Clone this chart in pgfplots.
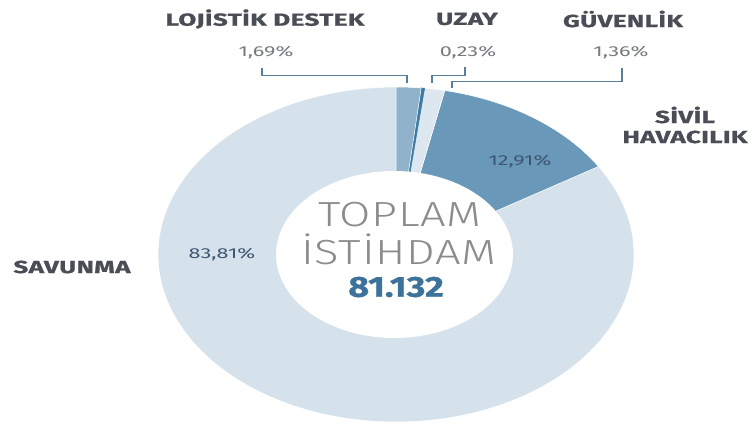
\documentclass[border=0pt]{standalone}
\usepackage{pgfplots}
\pgfplotsset{compat=1.18}
\usepackage{fontspec}
\setmainfont{Fira Sans}
\newfontfamily\hfont{Fira Sans}[FakeStretch=1.5, LetterSpace=2, FakeBold=1]
\newfontfamily\pfont{Fira Sans}[FakeStretch=1.5]
\newfontfamily\lfont{Fira Sans Light}[FakeStretch=1.3, LetterSpace=2]
\newfontfamily\nfont{Fira Sans}[FakeStretch=1.25, FakeBold=1]

\definecolor{cSav}{HTML}{D6E2EB}
\definecolor{cLog}{HTML}{90B3CB}
\definecolor{cUz}{HTML}{3C7BA3}
\definecolor{cGuv}{HTML}{DCE7EF}
\definecolor{cSiv}{HTML}{6A98B8}
\definecolor{cHead}{HTML}{4A4D55}
\definecolor{cPct}{HTML}{76797D}
\definecolor{cIn}{HTML}{3E5672}
\definecolor{cTop}{HTML}{8A8C8E}
\definecolor{cNum}{HTML}{3D729B}
\definecolor{cBr}{HTML}{5A7E9A}

% shares in percent, clockwise from the top
\def\pLog{1.69}
\def\pUz{0.23}
\def\pGuv{1.36}
\def\pSiv{12.91}
\def\pSav{83.81}

\begin{document}
\begin{tikzpicture}
\begin{axis}[
    scale only axis,
    width=752bp, height=425bp,
    xmin=0, xmax=752, ymin=0, ymax=425,
    y dir=reverse,
    hide axis, clip=false,
    every axis plot/.append style={draw=white, line width=0.5pt, variable=\t},
]
\path (axis cs:0,0) rectangle (axis cs:752,425);

% wedges
\addplot[fill=cSav, samples=150,
    domain={90-3.6*(\pLog+\pUz+\pGuv+\pSiv+\pSav)}:{90-3.6*(\pLog+\pUz+\pGuv+\pSiv)}]
    ({396+238*cos(\t)},{254.5-167.5*sin(\t)}) -- (axis cs:396,254.5) -- cycle;
\addplot[fill=cSiv, samples=40,
    domain={90-3.6*(\pLog+\pUz+\pGuv+\pSiv)}:{90-3.6*(\pLog+\pUz+\pGuv)}]
    ({396+238*cos(\t)},{254.5-167.5*sin(\t)}) -- (axis cs:396,254.5) -- cycle;
\addplot[fill=cGuv, samples=10,
    domain={90-3.6*(\pLog+\pUz+\pGuv)}:{90-3.6*(\pLog+\pUz)}]
    ({396+238*cos(\t)},{254.5-167.5*sin(\t)}) -- (axis cs:396,254.5) -- cycle;
\addplot[fill=cUz, draw=cUz, samples=4,
    domain={90-3.6*(\pLog+\pUz)}:{90-3.6*\pLog}]
    ({396+238*cos(\t)},{254.5-167.5*sin(\t)}) -- (axis cs:396,254.5) -- cycle;
\addplot[fill=cLog, samples=10,
    domain={90-3.6*\pLog}:90]
    ({396+238*cos(\t)},{254.5-167.5*sin(\t)}) -- (axis cs:396,254.5) -- cycle;

% hole
\addplot[fill=white, draw=none, samples=120, domain=0:360]
    ({394.5+118.5*cos(\t)},{254.5-83.5*sin(\t)}) -- cycle;

% brackets
\draw[cBr, line width=1.4pt] (axis cs:262,68) -- (axis cs:262,75.5) -- (axis cs:407,75.5) -- (axis cs:407,83);
\draw[cBr, line width=1.4pt] (axis cs:432,83) -- (axis cs:432,75.5) -- (axis cs:465,75.5) -- (axis cs:465,67);
\draw[cBr, line width=1.4pt] (axis cs:452,88) -- (axis cs:452,81.5) -- (axis cs:622,81.5) -- (axis cs:622,68);

% category labels
\begin{scope}[every node/.style={font=\hfont\bfseries\fontsize{17.5}{17.5}\selectfont, text=cHead, inner sep=0pt}]
\node at (axis cs:265,19) {LOJİSTİK DESTEK};
\node at (axis cs:467,19) {UZAY};
\node at (axis cs:623,19) {GÜVENLİK};
\node at (axis cs:685,115) {SİVİL};
\node at (axis cs:685,137) {HAVACILIK};
\node at (axis cs:72,267) {SAVUNMA};
\end{scope}

% shares
\begin{scope}[every node/.style={font=\pfont\fontsize{14.5}{14.5}\selectfont, text=cPct, inner sep=0pt}]
\node at (axis cs:266,53) {1,69\%};
\node at (axis cs:468,53) {0,23\%};
\node at (axis cs:621,53) {1,36\%};
\node[text=cIn] at (axis cs:520,162) {12,91\%};
\node[text=cIn] at (axis cs:222,255) {83,81\%};
\end{scope}

% centre
\node[font=\lfont\fontsize{35}{35}\selectfont, text=cTop, inner sep=0pt] at (axis cs:400,215) {TOPLAM};
\node[font=\lfont\fontsize{35}{35}\selectfont, text=cTop, inner sep=0pt, anchor=base] at (axis cs:399,264) {İSTİHDAM};
\node[font=\nfont\bfseries\fontsize{29}{29}\selectfont, text=cNum, inner sep=0pt] at (axis cs:396,287) {81.132};
\end{axis}
\end{tikzpicture}
\end{document}
